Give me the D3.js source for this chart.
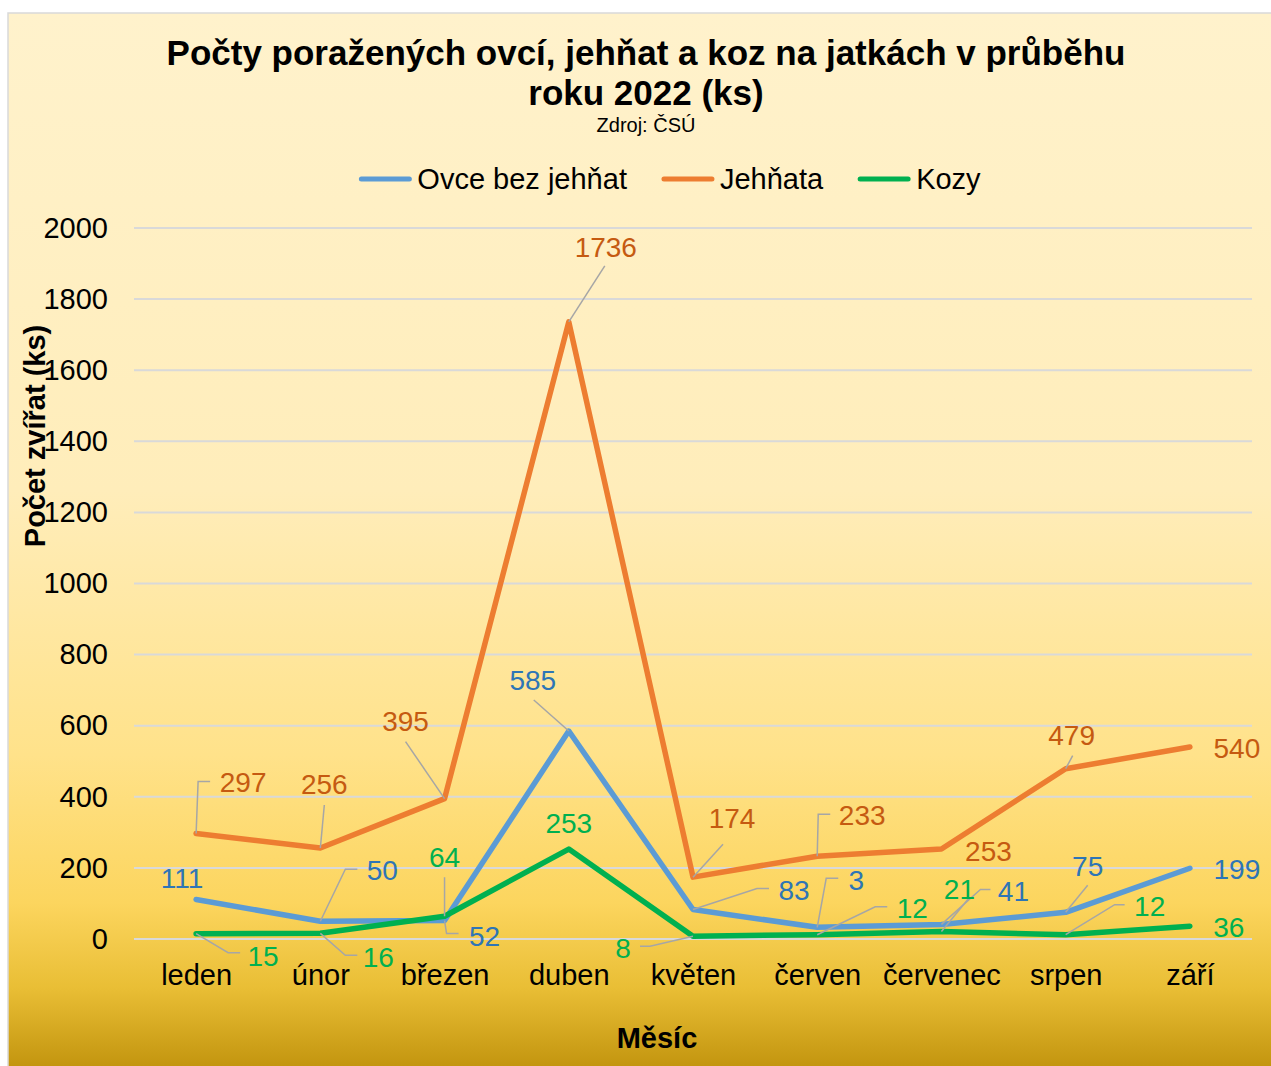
<!DOCTYPE html>
<html>
<head>
<meta charset="utf-8">
<script src="https://cdn.jsdelivr.net/npm/d3@7"></script>
<style>
  html, body { margin: 0; padding: 0; background: #fff; }
  svg { display: block; font-family: "Liberation Sans", Arial, sans-serif; }
</style>
</head>
<body>
<div id="chart"></div>
<script>
(function () {
  var months = ['leden', 'únor', 'březen', 'duben', 'květen', 'červen', 'červenec', 'srpen', 'září'];
  var ovce = [111, 50, 52, 585, 83, 33, 41, 75, 199];
  var jehnata = [297, 256, 395, 1736, 174, 233, 253, 479, 540];
  var kozy = [15, 16, 64, 253, 8, 12, 21, 12, 36];
  // label text as printed in the chart (the June sheep label is clipped to "3")
  var ovceLabels = ['111', '50', '52', '585', '83', '3', '41', '75', '199'];
  var yTicks = [0, 200, 400, 600, 800, 1000, 1200, 1400, 1600, 1800, 2000];

  var width = 1271;
  var height = 1066;

  // label offsets from the point and leader line vertices (relative to the point)
  var ovceLayout = [
    {dx: -14, dy: -22},
    {dx: 62, dy: -51, lead: [[0, 0], [25, -52], [37, -52]]},
    {dx: 40, dy: 15, lead: [[0, 0], [2, 13], [14, 13]]},
    {dx: -36, dy: -51, lead: [[0, 0], [-35, -31]]},
    {dx: 101, dy: -20, lead: [[0, 0], [64, -21], [76, -21]]},
    {dx: 39, dy: -47, lead: [[0, 0], [9, -49], [21, -49]]},
    {dx: 72, dy: -34, lead: [[0, 0], [39, -35], [49, -35]]},
    {dx: 22, dy: -46, lead: [[0, 0], [22, -27]]},
    {dx: 47, dy: 1}
  ];
  var jehnataLayout = [
    {dx: 47, dy: -51, lead: [[0, 0], [2, -52], [14, -52]]},
    {dx: 4, dy: -64, lead: [[0, 0], [4, -43]]},
    {dx: -39, dy: -78, lead: [[0, 0], [-39, -57]]},
    {dx: 37, dy: -75, lead: [[0, 0], [36, -56]]},
    {dx: 39, dy: -59, lead: [[0, 0], [30, -33]]},
    {dx: 45, dy: -41, lead: [[0, 0], [1, -42], [13, -42]]},
    {dx: 47, dy: 2},
    {dx: 6, dy: -34, lead: [[0, 0], [7, -13]]},
    {dx: 47, dy: 1}
  ];
  var kozyLayout = [
    {dx: 67, dy: 22, lead: [[0, 0], [32, 19], [44, 19]]},
    {dx: 58, dy: 24, lead: [[0, 0], [25, 22], [37, 22]]},
    {dx: 0, dy: -59, lead: [[0, 0], [0, -39]]},
    {dx: 0, dy: -26},
    {dx: -70, dy: 12, lead: [[0, 0], [-43, 10], [-53, 10]]},
    {dx: 95, dy: -27, lead: [[0, 0], [58, -28], [70, -28]]},
    {dx: 18, dy: -43, lead: [[0, 0], [28, -34]]},
    {dx: 84, dy: -29, lead: [[0, 0], [49, -30], [59, -30]]},
    {dx: 39, dy: 1}
  ];

  var series = [
    {name: 'Ovce bez jehňat', values: ovce, labels: ovceLabels, layout: ovceLayout,
      color: '#5B9BD5', labelColor: '#2E75B6'},
    {name: 'Jehňata', values: jehnata, labels: null, layout: jehnataLayout,
      color: '#ED7D31', labelColor: '#C55A11'},
    {name: 'Kozy', values: kozy, labels: null, layout: kozyLayout,
      color: '#00B050', labelColor: '#00B050'}
  ];

  var svg = d3.select('#chart').append('svg')
      .attr('width', width)
      .attr('height', height);

  var defs = svg.append('defs');
  var grad = defs.append('linearGradient')
      .attr('id', 'bg')
      .attr('x1', 0).attr('y1', 0)
      .attr('x2', 0).attr('y2', 1);
  [
    [0, '#FFF2CC'],
    [0.45, '#FFEDBA'],
    [0.7, '#FFE28A'],
    [0.84, '#FCD55E'],
    [0.92, '#E9BE35'],
    [1, '#C0920C']
  ].forEach(function (s) {
    grad.append('stop').attr('offset', s[0]).attr('stop-color', s[1]);
  });

  svg.append('rect')
      .attr('x', 8).attr('y', 13)
      .attr('width', 1280).attr('height', 1060)
      .attr('fill', 'url(#bg)')
      .attr('stroke', '#D9D9D9')
      .attr('stroke-width', 1.5);

  var x = d3.scalePoint()
      .domain(months)
      .range([134, 1252])
      .padding(0.5);

  var y = d3.scaleLinear()
      .domain([0, 2000])
      .range([939, 228]);

  // gridlines
  svg.append('g')
      .selectAll('line')
      .data(yTicks)
      .join('line')
      .attr('x1', 134).attr('x2', 1252)
      .attr('y1', function (d) { return y(d); })
      .attr('y2', function (d) { return y(d); })
      .attr('stroke', '#D9D9D9')
      .attr('stroke-width', 2);

  // y axis tick labels
  var yAxis = svg.append('g')
      .attr('transform', 'translate(108,0)')
      .call(d3.axisLeft(y).tickValues(yTicks).tickFormat(d3.format('d'))
          .tickSize(0).tickPadding(0));
  yAxis.select('.domain').remove();
  yAxis.selectAll('text')
      .attr('font-size', 29)
      .attr('font-family', '"Liberation Sans", Arial, sans-serif')
      .attr('fill', '#000');

  // x axis category labels
  var xAxis = svg.append('g')
      .attr('transform', 'translate(0,939)')
      .call(d3.axisBottom(x).tickSize(0).tickPadding(0));
  xAxis.select('.domain').remove();
  xAxis.selectAll('text')
      .attr('y', 46)
      .attr('dy', 0)
      .attr('font-size', 29)
      .attr('font-family', '"Liberation Sans", Arial, sans-serif')
      .attr('fill', '#000');

  // titles
  var title = svg.append('text')
      .attr('text-anchor', 'middle')
      .attr('font-weight', 'bold')
      .attr('font-size', 35)
      .attr('fill', '#000');
  title.append('tspan').attr('x', 646).attr('y', 65)
      .text('Počty poražených ovcí, jehňat a koz na jatkách v průběhu');
  title.append('tspan').attr('x', 646).attr('y', 105)
      .text('roku 2022 (ks)');

  svg.append('text')
      .attr('x', 646).attr('y', 132)
      .attr('text-anchor', 'middle')
      .attr('font-size', 20)
      .attr('fill', '#000')
      .text('Zdroj: ČSÚ');

  svg.append('text')
      .attr('transform', 'translate(45,436) rotate(-90)')
      .attr('text-anchor', 'middle')
      .attr('font-weight', 'bold')
      .attr('font-size', 29)
      .attr('fill', '#000')
      .text('Počet zvířat (ks)');

  svg.append('text')
      .attr('x', 657).attr('y', 1048)
      .attr('text-anchor', 'middle')
      .attr('font-weight', 'bold')
      .attr('font-size', 29)
      .attr('fill', '#000')
      .text('Měsíc');

  // legend
  var legend = svg.append('g');
  var lx = 0;
  series.forEach(function (s) {
    var item = legend.append('g').attr('transform', 'translate(' + lx + ',0)');
    item.append('line')
        .attr('x1', 2).attr('x2', 50)
        .attr('y1', 0).attr('y2', 0)
        .attr('stroke', s.color)
        .attr('stroke-width', 5)
        .attr('stroke-linecap', 'round');
    var t = item.append('text')
        .attr('x', 58).attr('y', 0)
        .attr('dy', '0.35em')
        .attr('font-size', 29)
        .attr('fill', '#000')
        .text(s.name);
    lx += 58 + t.node().getComputedTextLength() + 35;
  });
  lx -= 35;
  legend.attr('transform', 'translate(' + (670 - lx / 2) + ',179)');

  // lines
  var line = d3.line()
      .x(function (d, i) { return x(months[i]); })
      .y(function (d) { return y(d); });

  series.forEach(function (s) {
    svg.append('path')
        .datum(s.values)
        .attr('d', line)
        .attr('fill', 'none')
        .attr('stroke', s.color)
        .attr('stroke-width', 5.5)
        .attr('stroke-linejoin', 'round')
        .attr('stroke-linecap', 'round');
  });

  // leader lines and data labels
  var leadLine = d3.line();
  series.forEach(function (s) {
    s.values.forEach(function (v, i) {
      var px = x(months[i]);
      var py = y(v);
      var lay = s.layout[i];
      if (lay.lead) {
        svg.append('path')
            .attr('d', leadLine(lay.lead.map(function (p) {
              return [px + p[0], py + p[1]];
            })))
            .attr('fill', 'none')
            .attr('stroke', '#A6A6A6')
            .attr('stroke-width', 1.5);
      }
      svg.append('text')
          .attr('x', px + lay.dx)
          .attr('y', py + lay.dy)
          .attr('dy', '0.36em')
          .attr('text-anchor', 'middle')
          .attr('font-size', 28)
          .attr('fill', s.labelColor)
          .text(s.labels ? s.labels[i] : String(v));
    });
  });
}());
</script>
</body>
</html>
